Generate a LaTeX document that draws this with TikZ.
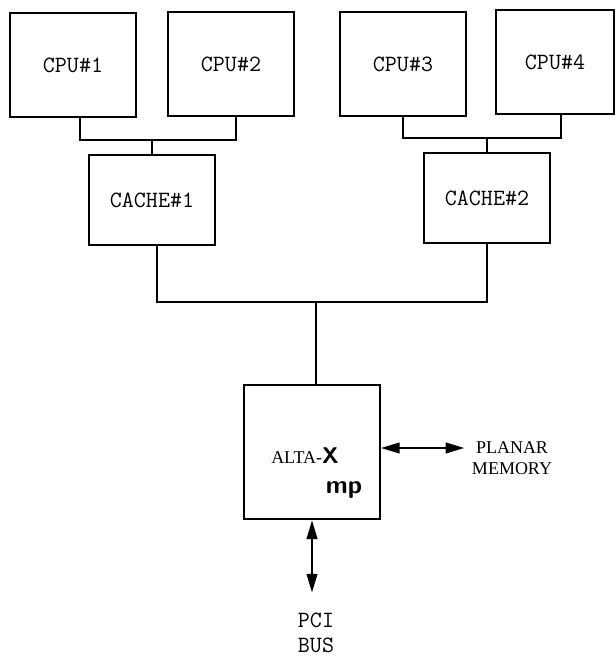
\documentclass[tikz,border=0pt]{standalone}
\usepackage{fontspec}
\setmainfont{Liberation Serif}
\usepackage{tikz}
\usetikzlibrary{arrows.meta,calc,positioning}

\begin{document}
\begin{tikzpicture}[x=0.75pt,y=-0.75pt,
 box/.style={draw,line width=1.5pt,minimum width=94.5pt,align=center,inner sep=2pt,
  font=\ttfamily\fontsize{17.5}{19}\selectfont},
 cpubox/.style={box,minimum height=78pt},
 cachebox/.style={box,minimum height=66.75pt},
 wire/.style={line width=1.2pt},
 dbl/.style={line width=1.5pt,{Triangle[length=14pt,width=8pt]}-{Triangle[length=14pt,width=8pt]}},
 every node/.style={font=\fontsize{13.5}{15.5}\selectfont}]
 \useasboundingbox (0,0) rectangle (616,656);
 % processors
 \node[cpubox] (cpu1) at (73,65) {CPU\#1};
 \node[cpubox] (cpu2) at (231,64) {CPU\#2};
 \node[cpubox] (cpu3) at (403,64) {CPU\#3};
 \node[cpubox,minimum width=88.5pt] (cpu4) at (555,62) {CPU\#4};
 % caches
 \node[cachebox] (cache1) at (152,200) {CACHE\#1};
 \node[cachebox] (cache2) at (487,198) {CACHE\#2};
 % bridge
 \node[box,minimum width=102pt,minimum height=101pt] (alta) at (312,452) {};
 \node (altatxt) at (305,456) {ALTA-{\sffamily\bfseries\fontsize{17}{17}\selectfont X}};
 \node[font=\sffamily\bfseries\fontsize{19}{19}\selectfont,inner sep=0pt] (mp) at (344,490) {mp};
 \node[align=center] (mem) at (512,458) {PLANAR\\MEMORY};
 \node[align=center,font=\ttfamily\fontsize{17.5}{18.5}\selectfont] (pci) at (316,633) {PCI\\BUS};
 % buses
 \coordinate (busa) at (152,140);
 \coordinate (busb) at (487,138);
 \coordinate (busc) at (316,302);
 \draw[wire] ($(cpu1.south)+(7,0)$) |- (busa) -| ($(cpu2.south)+(5,0)$);
 \draw[wire] (busa) -- (cache1.north);
 \draw[wire] (cpu3.south) |- (busb) -| ($(cpu4.south)+(6,0)$);
 \draw[wire] (busb) -- (cache2.north);
 \draw[wire] ($(cache1.south)+(5,0)$) |- (busc) -| (cache2.south);
 \draw[wire] (busc) -- (alta.north -| busc);
 % links
 \draw[dbl] ($(alta.east)+(0,-4)$) -- ($(mem.west)+(-3,-10)$);
 \draw[dbl] (alta.south) -- ($(alta.south |- pci.north)+(0,-16)$);
\end{tikzpicture}
\end{document}
